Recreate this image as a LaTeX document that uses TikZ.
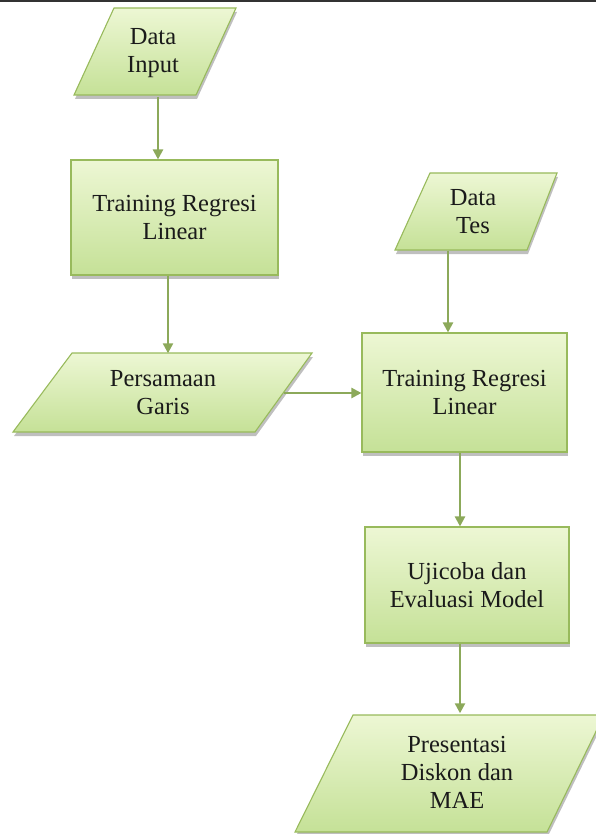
\documentclass[tikz,border=0pt]{standalone}
\usepackage{fontspec}
\setmainfont{Liberation Serif}
\usetikzlibrary{arrows.meta,shadows}
\definecolor{fillA}{HTML}{EDF7D4}
\definecolor{fillB}{HTML}{C5E197}
\definecolor{edgec}{HTML}{98BA5C}
\definecolor{arrowc}{HTML}{8CA95A}
\definecolor{txtc}{HTML}{1A1A1A}
\newcommand\greenshape[1]{%
  \fill[black,opacity=0.25,xshift=1pt,yshift=-4pt] #1;
  \shade[flowfill] #1;}
\begin{document}
\begin{tikzpicture}[x=1pt,y=1pt,
  every node/.style={font=\fontsize{24.5}{28}\selectfont, text=txtc, align=center},
  procbox/.style={draw=edgec, line width=1.1pt, top color=fillA, bottom color=fillB,
    drop shadow={shadow xshift=1pt, shadow yshift=-4pt, opacity=0.25, fill=black}, inner sep=0pt},
  iolabel/.style={inner sep=0pt},
  flowfill/.style={draw=edgec, line width=1.1pt, top color=fillA, bottom color=fillB},
  flowarrow/.style={draw=arrowc, line width=2.3pt, -{Triangle[length=10pt,width=10pt]}}
]
\useasboundingbox (0,0) rectangle (596,-834);
\clip (0,0) rectangle (596,-834);
\fill[black!80] (0,0) rectangle (596,-2.5);

% input/output parallelograms
\greenshape{(114,-8) -- (236,-8) -- (196,-95) -- (74,-95) -- cycle}
\greenshape{(72,-353) -- (312,-353) -- (255,-432) -- (13,-432) -- cycle}
\greenshape{(430,-173) -- (557,-173) -- (527,-250) -- (395,-250) -- cycle}
\greenshape{(353,-715) -- (604,-715) -- (547,-832) -- (295,-832) -- cycle}

\node[iolabel, minimum height=87pt] (din) at (153,-53) {Data\\Input};
\node[iolabel, minimum height=79pt, minimum width=241pt] (pg) at (163,-393) {Persamaan\\Garis};
\node[iolabel, minimum height=77pt] (dtes) at (473,-212) {Data\\Tes};
\node[iolabel, minimum height=117pt] (pres) at (457,-772) {Presentasi\\Diskon dan\\MAE};

% process boxes
\node[procbox, minimum width=207pt, minimum height=115pt] (tr1) at (174.5,-217.5) {Training Regresi\\Linear};
\node[procbox, minimum width=205pt, minimum height=119pt] (tr2) at (464.5,-392.5) {Training Regresi\\Linear};
\node[procbox, minimum width=204pt, minimum height=116pt] (uji) at (467,-585) {Ujicoba dan\\Evaluasi Model};

% connectors
\draw[flowarrow] ([xshift=5pt]din.south) -- ([xshift=5pt]din.south |- tr1.north);
\draw[flowarrow] ([xshift=-6.5pt]tr1.south) -- ([xshift=-6.5pt]tr1.south |- pg.north);
\draw[flowarrow] (pg.east) -- (pg.east -| tr2.west);
\draw[flowarrow] ([xshift=-25pt]dtes.south) -- ([xshift=-25pt]dtes.south |- tr2.north);
\draw[flowarrow] ([xshift=-4.5pt]tr2.south) -- ([xshift=-4.5pt]tr2.south |- uji.north);
\draw[flowarrow] ([xshift=-7pt]uji.south) -- ([xshift=-7pt]uji.south |- pres.north);
\end{tikzpicture}
\end{document}
